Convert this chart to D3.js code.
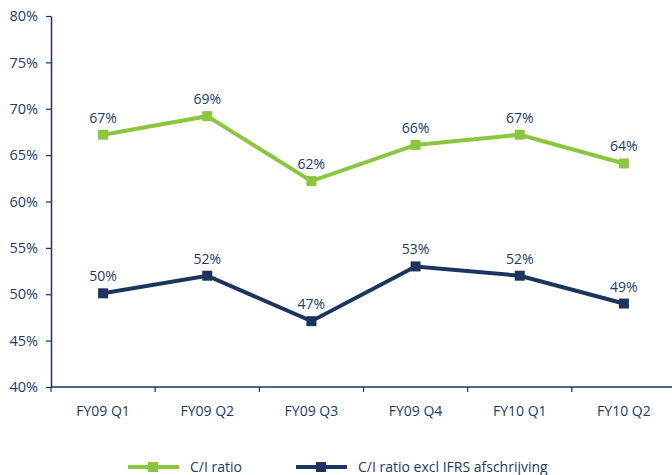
<!DOCTYPE html>
<html>
<head>
<meta charset="utf-8">
<script src="https://cdn.jsdelivr.net/npm/d3@7"></script>
<style>
  body { margin: 0; background: #fff; }
  svg text { font-family: "Open Sans", sans-serif; fill: #213a66; }
</style>
</head>
<body>
<svg id="drawing_region"></svg>
<script>
// data
const quarters = ["FY09 Q1", "FY09 Q2", "FY09 Q3", "FY09 Q4", "FY10 Q1", "FY10 Q2"];
const ciRatio = [67.2, 69.2, 62.2, 66.1, 67.2, 64.1];
const ciRatioExcl = [50.1, 52.0, 47.1, 53.0, 52.0, 49.0];
const yTicks = [40, 45, 50, 55, 60, 65, 70, 75, 80];
const seriesNames = ["C/I ratio", "C/I ratio excl IFRS afschrijving"];

const navy = "#1c3560";
const green = "#8cc63f";

const width = 672, height = 475;
const margin = {top: 16, right: -4, bottom: 88, left: 51};

const svg = d3.select("#drawing_region")
    .attr("width", width)
    .attr("height", height);

const chart = svg.append("g")
    .attr("transform", `translate(${margin.left}, ${margin.top})`);

const inner_width = width - margin.left - margin.right;
const inner_height = height - margin.top - margin.bottom;

const xscale = d3.scaleBand()
    .domain(quarters)
    .range([0, inner_width]);

const yscale = d3.scaleLinear()
    .domain([40, 80])
    .range([inner_height, 0]);

// x axis with ticks between the categories
const xaxis_group = chart.append("g")
    .attr("transform", `translate(0, ${inner_height})`);
xaxis_group.append("line")
    .attr("x1", 0).attr("x2", inner_width)
    .attr("stroke", navy).attr("stroke-width", 1.5);
xaxis_group.selectAll(".tk")
    .data(quarters)
    .enter()
    .append("line")
    .attr("x1", d => xscale(d)).attr("x2", d => xscale(d))
    .attr("y1", 0).attr("y2", 5)
    .attr("stroke", navy).attr("stroke-width", 1.2);
xaxis_group.selectAll("text")
    .data(quarters)
    .enter()
    .append("text")
    .attr("x", d => xscale(d) + xscale.bandwidth() / 2)
    .attr("y", 29)
    .attr("text-anchor", "middle")
    .attr("font-size", "14px")
    .text(d => d);

// y axis
const yaxis = d3.axisLeft(yscale)
    .tickValues(yTicks)
    .tickFormat(d => d + "%")
    .tickSize(5)
    .tickSizeOuter(0)
    .tickPadding(8);

const yaxis_group = chart.append("g").call(yaxis);
yaxis_group.select(".domain").attr("stroke", navy).attr("stroke-width", 1.5);
yaxis_group.selectAll(".tick line").attr("stroke", navy).attr("stroke-width", 1.2);
yaxis_group.selectAll(".tick text")
    .attr("font-size", "14.5px")
    .attr("font-family", "Open Sans, sans-serif")
    .attr("fill", "#213a66");

const line = d3.line()
    .x((d, i) => xscale(quarters[i]) + xscale.bandwidth() / 2)
    .y(d => yscale(d));

const series = [
    {name: seriesNames[0], values: ciRatio, color: green},
    {name: seriesNames[1], values: ciRatioExcl, color: navy}
];

series.forEach(s => {
    chart.append("path")
        .datum(s.values)
        .attr("fill", "none")
        .attr("stroke", s.color)
        .attr("stroke-width", 4)
        .attr("d", line);

    chart.selectAll(null)
        .data(s.values)
        .enter()
        .append("rect")
        .attr("x", (d, i) => xscale(quarters[i]) + xscale.bandwidth() / 2 - 5)
        .attr("y", d => yscale(d) - 5)
        .attr("width", 10)
        .attr("height", 10)
        .attr("fill", s.color);

    chart.selectAll(null)
        .data(s.values)
        .enter()
        .append("text")
        .attr("x", (d, i) => xscale(quarters[i]) + xscale.bandwidth() / 2)
        .attr("y", d => yscale(d) - 12)
        .attr("text-anchor", "middle")
        .attr("font-size", "14px")
        .text(d => Math.round(d) + "%");
});

// legend
const legend = svg.append("g")
    .attr("transform", "translate(128, 467)");
const legendX = [0, 168];
series.forEach((s, i) => {
    const g = legend.append("g").attr("transform", `translate(${legendX[i]}, 0)`);
    g.append("line")
        .attr("x1", 0).attr("x2", 51)
        .attr("stroke", s.color).attr("stroke-width", 4);
    g.append("rect")
        .attr("x", 20).attr("y", -5)
        .attr("width", 10).attr("height", 10)
        .attr("fill", s.color);
    g.append("text")
        .attr("x", 62).attr("y", 5)
        .attr("font-size", "14px")
        .text(s.name);
});
</script>
</body>
</html>
